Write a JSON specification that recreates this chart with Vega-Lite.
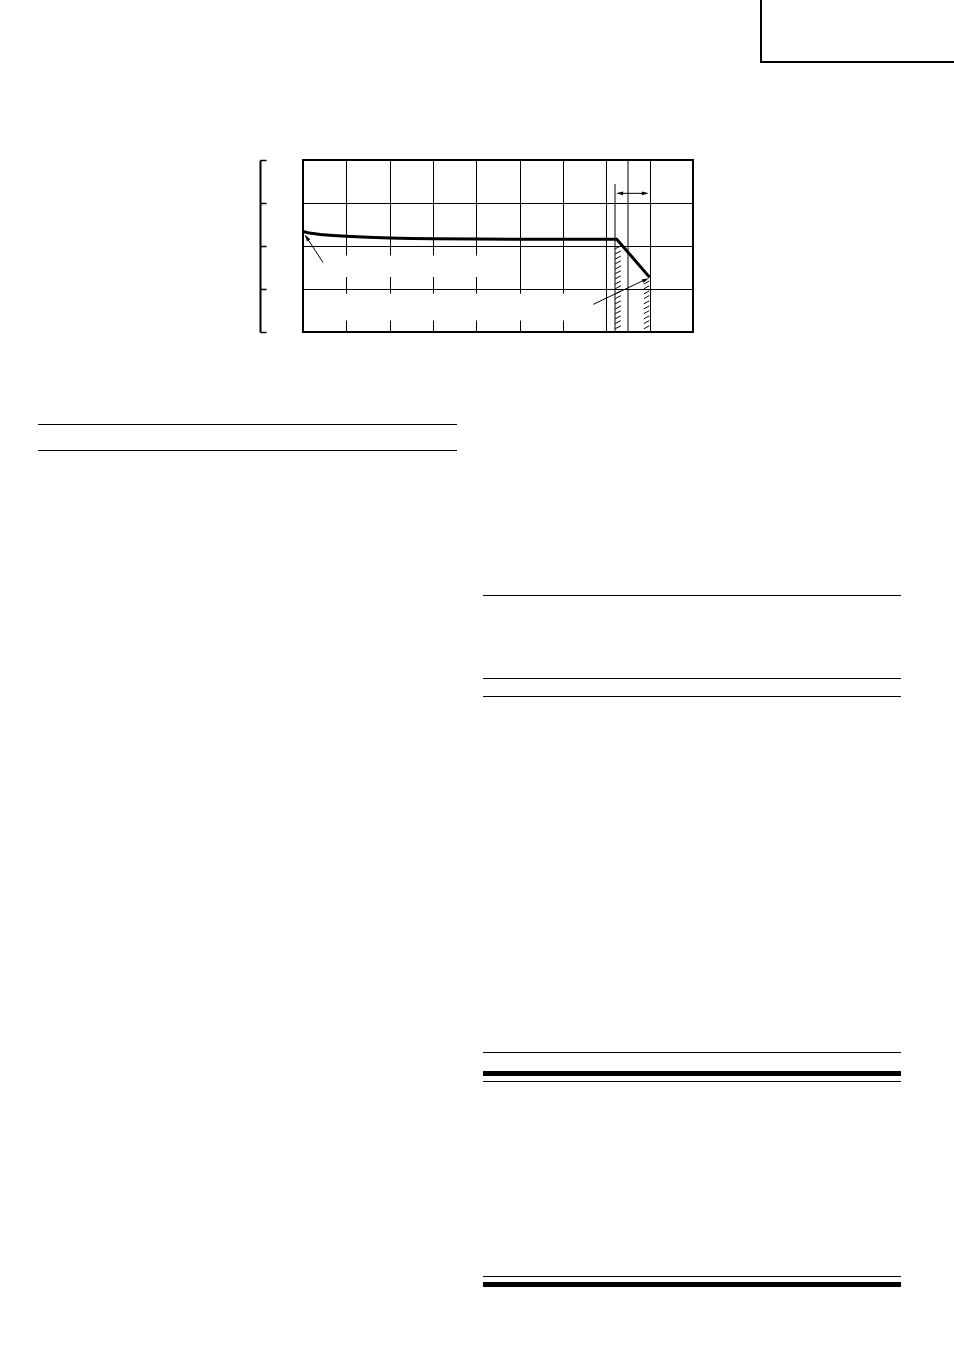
{
  "$schema": "https://vega.github.io/schema/vega-lite/v6.json",
  "padding": 0,
  "spacing": 0,
  "config": {"view": {"stroke": null}, "concat": {"spacing": 0}},
  "datasets": {
    "empty": [],
    "curve": [
      {"i": 0, "x": 0, "y": 2.336},
      {"i": 1, "x": 0.15, "y": 2.3},
      {"i": 2, "x": 0.4, "y": 2.268},
      {"i": 3, "x": 0.7, "y": 2.244},
      {"i": 4, "x": 1, "y": 2.225},
      {"i": 5, "x": 1.5, "y": 2.202},
      {"i": 6, "x": 2, "y": 2.186},
      {"i": 7, "x": 2.5, "y": 2.175},
      {"i": 8, "x": 3, "y": 2.167},
      {"i": 9, "x": 4, "y": 2.16},
      {"i": 10, "x": 5, "y": 2.158},
      {"i": 11, "x": 7.24, "y": 2.158},
      {"i": 12, "x": 8.0, "y": 1.27}
    ],
    "masks": [
      {"x": 0.6, "x2": 4.5, "y": 1.28, "y2": 1.78},
      {"x": 0.6, "x2": 6.5, "y": 0.27, "y2": 0.89}
    ],
    "markers": [
      {"x": 7.2, "y": 0, "y2": 3.44},
      {"x": 7.5, "y": 0, "y2": 4}
    ],
    "hatch": [
      {"x": 7.205, "x2": 7.335, "y": 1.935, "y2": 2.005},
      {"x": 7.205, "x2": 7.335, "y": 1.815, "y2": 1.885},
      {"x": 7.205, "x2": 7.335, "y": 1.695, "y2": 1.765},
      {"x": 7.205, "x2": 7.335, "y": 1.585, "y2": 1.655},
      {"x": 7.205, "x2": 7.335, "y": 1.465, "y2": 1.535},
      {"x": 7.205, "x2": 7.335, "y": 1.355, "y2": 1.425},
      {"x": 7.205, "x2": 7.335, "y": 1.235, "y2": 1.305},
      {"x": 7.205, "x2": 7.335, "y": 1.115, "y2": 1.185},
      {"x": 7.205, "x2": 7.335, "y": 1.005, "y2": 1.075},
      {"x": 7.205, "x2": 7.335, "y": 0.885, "y2": 0.955},
      {"x": 7.205, "x2": 7.335, "y": 0.775, "y2": 0.845},
      {"x": 7.205, "x2": 7.335, "y": 0.655, "y2": 0.725},
      {"x": 7.205, "x2": 7.335, "y": 0.535, "y2": 0.605},
      {"x": 7.205, "x2": 7.335, "y": 0.425, "y2": 0.495},
      {"x": 7.205, "x2": 7.335, "y": 0.305, "y2": 0.375},
      {"x": 7.205, "x2": 7.335, "y": 0.195, "y2": 0.265},
      {"x": 7.205, "x2": 7.335, "y": 0.075, "y2": 0.145},
      {"x": 7.865, "x2": 7.99, "y": 1.115, "y2": 1.185},
      {"x": 7.865, "x2": 7.99, "y": 1.005, "y2": 1.075},
      {"x": 7.865, "x2": 7.99, "y": 0.885, "y2": 0.955},
      {"x": 7.865, "x2": 7.99, "y": 0.775, "y2": 0.845},
      {"x": 7.865, "x2": 7.99, "y": 0.655, "y2": 0.725},
      {"x": 7.865, "x2": 7.99, "y": 0.535, "y2": 0.605},
      {"x": 7.865, "x2": 7.99, "y": 0.425, "y2": 0.495},
      {"x": 7.865, "x2": 7.99, "y": 0.305, "y2": 0.375},
      {"x": 7.865, "x2": 7.99, "y": 0.195, "y2": 0.265},
      {"x": 7.865, "x2": 7.99, "y": 0.075, "y2": 0.145}
    ],
    "arrows": [
      {"x": 0.46, "y": 1.62, "x2": 0.09, "y2": 2.19},
      {"x": 6.7, "y": 0.643, "x2": 7.9, "y2": 1.22},
      {"x": 7.3, "y": 3.225, "x2": 7.9, "y2": 3.225}
    ],
    "heads": [
      {"x": 0.085, "y": 2.2, "angle": 325.6},
      {"x": 7.91, "y": 1.218, "angle": 64.7},
      {"x": 7.307, "y": 3.225, "angle": 270},
      {"x": 7.9, "y": 3.225, "angle": 90}
    ]
  },
  "vconcat": [
    {
      "spacing": 0,
      "hconcat": [
        {"width": 760, "height": 61, "data": {"name": "empty"}, "mark": "point", "encoding": {}},
        {"width": 2, "height": 61, "data": {"name": "empty"}, "mark": "point", "encoding": {}, "view": {"fill": "black", "stroke": null}}
      ]
    },
    {
      "spacing": 0,
      "hconcat": [
        {"width": 760, "height": 2, "data": {"name": "empty"}, "mark": "point", "encoding": {}},
        {"width": 194, "height": 2, "data": {"name": "empty"}, "mark": "point", "encoding": {}, "view": {"fill": "black", "stroke": null}}
      ]
    },
    {"width": 1, "height": 95, "data": {"name": "empty"}, "mark": "point", "encoding": {}},
    {
      "spacing": 0, "bounds": "flush",
      "hconcat": [
        {"width": 303, "height": 172, "data": {"name": "empty"}, "mark": "point", "encoding": {}},
        {
          "width": 390,
          "height": 172,
          "view": {"stroke": "black", "strokeWidth": 2},
          "encoding": {
            "x": {"field": "x", "type": "quantitative", "scale": {"domain": [0, 9], "nice": false, "zero": false},
              "axis": {"values": [1, 2, 3, 4, 5, 6, 7, 8], "grid": true, "gridColor": "black", "gridWidth": 1, "gridOpacity": 1, "domain": false, "ticks": false, "labels": false, "title": null}},
            "y": {"field": "y", "type": "quantitative", "scale": {"domain": [0, 4], "nice": false, "zero": false},
              "axis": {"values": [0, 1, 2, 3, 4], "grid": true, "gridColor": "black", "gridWidth": 1, "gridOpacity": 1, "domain": true, "domainColor": "black", "domainWidth": 2, "ticks": true, "tickSize": -6, "tickColor": "black", "tickWidth": 1.5, "labels": false, "title": null, "offset": 43}}
          },
          "layer": [
            {
              "data": {"name": "masks"},
              "mark": {"type": "rect", "fill": "white", "stroke": null},
              "encoding": {"x2": {"field": "x2"}, "y2": {"field": "y2"}}
            },
            {
              "data": {"name": "markers"},
              "mark": {"type": "rule", "color": "black", "strokeWidth": 1},
              "encoding": {"y2": {"field": "y2"}}
            },
            {
              "data": {"name": "hatch"},
              "mark": {"type": "rule", "color": "black", "strokeWidth": 1},
              "encoding": {"x2": {"field": "x2"}, "y2": {"field": "y2"}}
            },
            {
              "data": {"name": "curve"},
              "mark": {"type": "line", "color": "black", "strokeWidth": 3, "strokeJoin": "miter"},
              "encoding": {"order": {"field": "i", "type": "quantitative"}}
            },
            {
              "data": {"name": "arrows"},
              "mark": {"type": "rule", "color": "black", "strokeWidth": 1},
              "encoding": {"x2": {"field": "x2"}, "y2": {"field": "y2"}}
            },
            {
              "data": {"name": "heads"},
              "mark": {"type": "point", "shape": "M0,-1L0.55,1L-0.55,1Z", "filled": true, "color": "black", "opacity": 1, "size": 49},
              "encoding": {"angle": {"field": "angle", "type": "quantitative", "scale": null}}
            }
          ]
        }
      ]
    },
    {
      "spacing": 0,
      "hconcat": [
        {"width": 38, "height": 1, "data": {"name": "empty"}, "mark": "point", "encoding": {}},
        {
          "spacing": 0,
          "vconcat": [
            {"width": 419, "height": 90, "data": {"name": "empty"}, "mark": "point", "encoding": {}},
            {"width": 419, "height": 1, "data": {"name": "empty"}, "mark": "point", "encoding": {}, "view": {"fill": "black", "stroke": null}},
            {"width": 419, "height": 25, "data": {"name": "empty"}, "mark": "point", "encoding": {}},
            {"width": 419, "height": 1, "data": {"name": "empty"}, "mark": "point", "encoding": {}, "view": {"fill": "black", "stroke": null}}
          ]
        },
        {"width": 26, "height": 1, "data": {"name": "empty"}, "mark": "point", "encoding": {}},
        {
          "spacing": 0,
          "vconcat": [
            {"width": 418, "height": 261, "data": {"name": "empty"}, "mark": "point", "encoding": {}},
            {"width": 418, "height": 1, "data": {"name": "empty"}, "mark": "point", "encoding": {}, "view": {"fill": "black", "stroke": null}},
            {"width": 418, "height": 82, "data": {"name": "empty"}, "mark": "point", "encoding": {}},
            {"width": 418, "height": 1, "data": {"name": "empty"}, "mark": "point", "encoding": {}, "view": {"fill": "black", "stroke": null}},
            {"width": 418, "height": 17, "data": {"name": "empty"}, "mark": "point", "encoding": {}},
            {"width": 418, "height": 1, "data": {"name": "empty"}, "mark": "point", "encoding": {}, "view": {"fill": "black", "stroke": null}},
            {"width": 418, "height": 355, "data": {"name": "empty"}, "mark": "point", "encoding": {}},
            {"width": 418, "height": 1, "data": {"name": "empty"}, "mark": "point", "encoding": {}, "view": {"fill": "black", "stroke": null}},
            {"width": 418, "height": 18, "data": {"name": "empty"}, "mark": "point", "encoding": {}},
            {"width": 418, "height": 5, "data": {"name": "empty"}, "mark": "point", "encoding": {}, "view": {"fill": "black", "stroke": null}},
            {"width": 418, "height": 5, "data": {"name": "empty"}, "mark": "point", "encoding": {}},
            {"width": 418, "height": 1, "data": {"name": "empty"}, "mark": "point", "encoding": {}, "view": {"fill": "black", "stroke": null}},
            {"width": 418, "height": 194, "data": {"name": "empty"}, "mark": "point", "encoding": {}},
            {"width": 418, "height": 1, "data": {"name": "empty"}, "mark": "point", "encoding": {}, "view": {"fill": "black", "stroke": null}},
            {"width": 418, "height": 5, "data": {"name": "empty"}, "mark": "point", "encoding": {}},
            {"width": 418, "height": 5, "data": {"name": "empty"}, "mark": "point", "encoding": {}, "view": {"fill": "black", "stroke": null}}
          ]
        }
      ]
    }
  ]
}
